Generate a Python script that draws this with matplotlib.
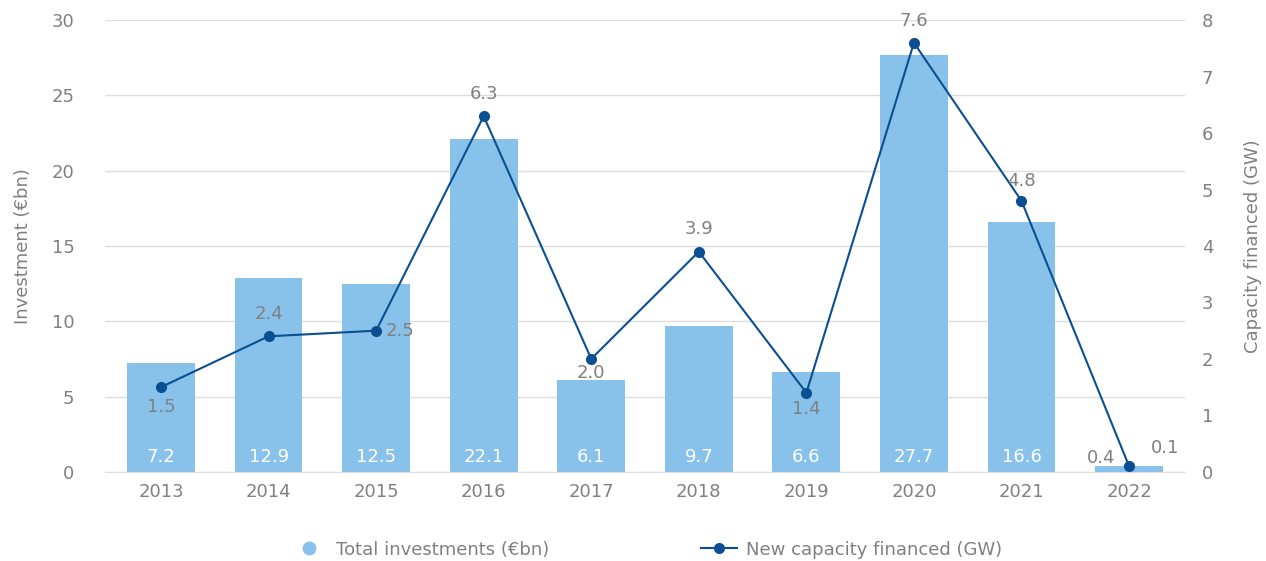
import matplotlib
matplotlib.use("Agg")
import matplotlib.pyplot as plt
from matplotlib.lines import Line2D
import numpy as np

years = ["2013", "2014", "2015", "2016", "2017", "2018", "2019", "2020", "2021", "2022"]
investments = [7.2, 12.9, 12.5, 22.1, 6.1, 9.7, 6.6, 27.7, 16.6, 0.4]
capacity = [1.5, 2.4, 2.5, 6.3, 2.0, 3.9, 1.4, 7.6, 4.8, 0.1]
# label placement for capacity values: (dx points, dy points)
cap_offsets = [(0, -14), (0, 16), (7, 0), (0, 16), (0, -10), (0, 16), (0, -12), (0, 16), (0, 14), (16, 13)]

bar_color = "#88C1EA"
line_color = "#0B4F92"
grey = "#808080"

plt.rcParams['font.family'] = ['DejaVu Sans']
fig = plt.figure(figsize=(12.66, 5.61), dpi=100)
ax = fig.add_axes([0.083, 0.159, 0.853, 0.805])
ax2 = ax.twinx()

x = np.arange(len(years))
bars = ax.bar(x, investments, width=0.63, color=bar_color, zorder=2)
ax.set_ylim(0, 30)
ax.set_yticks(range(0, 31, 5))
ax.set_xlim(-0.52, len(years) - 0.48)
ax.set_xticks(x)
ax.set_xticklabels(years)
ax.grid(axis='y', color="#DDDDDD", linewidth=1, zorder=0)
ax.set_axisbelow(True)

for i, v in enumerate(investments):
    if v > 2:
        ax.annotate(f"{v:.1f}", (x[i], 0), xytext=(0, 4), textcoords='offset points',
                    ha='center', va='bottom', color='white', fontsize=13)
    else:
        ax.annotate(f"{v:.1f}", (x[i], v), xytext=(-10, -1), textcoords='offset points',
                    ha='right', va='bottom', color=grey, fontsize=13)

ax2.plot(x, capacity, color=line_color, marker='o', markersize=7, linewidth=1.5, zorder=3)
ax2.set_ylim(0, 8)
ax2.set_yticks(range(0, 9))
for i, v in enumerate(capacity):
    dx, dy = cap_offsets[i]
    ha = 'center' if dx == 0 else 'left'
    ax2.annotate(f"{v:.1f}", (x[i], v), xytext=(dx, dy), textcoords='offset points',
                 ha=ha, va='center', color=grey, fontsize=13)

for a in (ax, ax2):
    for s in a.spines.values():
        s.set_visible(False)
    a.tick_params(length=0, colors=grey, labelsize=13)
ax.spines['bottom'].set_visible(True)
ax.spines['bottom'].set_color("#DDDDDD")
ax.tick_params(axis='y', pad=22)
ax.tick_params(axis='x', pad=8)
ax2.tick_params(axis='y', pad=12)

ax.set_ylabel("Investment (€bn)", color=grey, fontsize=13, labelpad=14)
ax2.set_ylabel("Capacity financed (GW)", color=grey, fontsize=13, labelpad=22)

handles = [
    Line2D([], [], linestyle='none', marker='o', markersize=9, color=bar_color),
    Line2D([], [], color=line_color, marker='o', markersize=7, linewidth=1.5),
]
fig.legend(handles, ["Total investments (€bn)", "New capacity financed (GW)"],
           loc='center', bbox_to_anchor=(0.511, 0.02), ncol=2, frameon=False,
           fontsize=13, labelcolor=grey, columnspacing=8.4, handlelength=2.0,
           handletextpad=0.5)

fig.savefig("out.png", dpi=100)
